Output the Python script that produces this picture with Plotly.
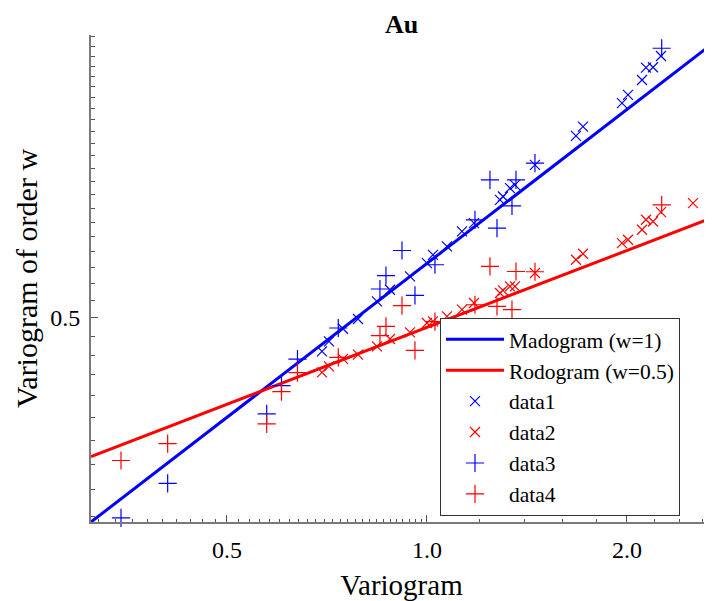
import numpy as np
import plotly.graph_objects as go

# ---- data ----
x_cross = [0.6950, 0.7121, 0.7475, 0.7874, 0.8409, 0.8797, 0.9429, 1.0000, 1.0211,
           1.0719, 1.1291, 1.1771, 1.2881, 1.3016, 1.3335, 1.3568, 1.4542, 1.6763,
           1.7175, 1.9660, 2.0074, 2.1073, 2.1367, 2.1892, 2.2507, 2.5146]
data1 = [0.4639, 0.4744, 0.4881, 0.4989, 0.5190, 0.5327, 0.5489, 0.5656, 0.5762,
         0.5871, 0.6072, 0.6187, 0.6519, 0.6567, 0.6692, 0.6742, 0.7051, 0.7525,
         0.7683, 0.8098, 0.8249, 0.8531, 0.8770, 0.8778, 0.9003, 0.9438]
data2 = [0.4426, 0.4486, 0.4561, 0.4605, 0.4691, 0.4770, 0.4841, 0.4944, 0.4962,
         0.5018, 0.5094, 0.5171, 0.5288, 0.5319, 0.5367, 0.5367, 0.5531, 0.5698,
         0.5775, 0.5916, 0.5960, 0.6095, 0.6233, 0.6209, 0.6342, 0.6471]

x_plus = [0.3463, 0.4071, 0.5738, 0.6040, 0.6384, 0.7354, 0.8497, 0.8676, 0.9171,
          0.9593, 1.0282, 1.1811, 1.2441, 1.2748, 1.3428, 1.3615, 1.4542, 2.2562]
data3 = [0.3193, 0.3449, 0.4032, 0.4296, 0.4559, 0.4889, 0.5336, 0.5498, 0.5818,
         0.5260, 0.5635, 0.6233, 0.6818, 0.6118, 0.6432, 0.6818, 0.7078, 0.9160]
data4 = [0.3631, 0.3772, 0.3942, 0.4239, 0.4423, 0.4577, 0.4805, 0.4907, 0.5140,
         0.4650, 0.4959, 0.5151, 0.5613, 0.5132, 0.5094, 0.5550, 0.5547, 0.6446]

line_x = [0.3121, 2.686]
madogram_y = [0.3163, 0.9249]
rodogram_y = [0.3664, 0.6261]

x_tickvals = [0.4, 0.5, 0.6, 0.7, 0.8, 0.9, 1.0, 2.0]
x_ticktext = ["", "0.5", "", "", "", "", "1.0", "2.0"]
y_tickvals = [0.4, 0.5, 0.6, 0.7, 0.8, 0.9]
y_ticktext = ["", "0.5", "", "", "", ""]

FONT = "Liberation Serif, Times New Roman, serif"
BLUE = "#0000ff"
RED = "#ff0000"

fig = go.Figure()
fig.add_trace(go.Scatter(x=line_x, y=madogram_y, mode="lines", name="Madogram (w=1)",
                         line=dict(color=BLUE, width=3)))
fig.add_trace(go.Scatter(x=line_x, y=rodogram_y, mode="lines", name="Rodogram (w=0.5)",
                         line=dict(color=RED, width=3)))
fig.add_trace(go.Scatter(x=x_cross, y=data1, mode="markers", name="data1", cliponaxis=False,
                         marker=dict(symbol="x-thin", size=10, line=dict(color=BLUE, width=1.2))))
fig.add_trace(go.Scatter(x=x_cross, y=data2, mode="markers", name="data2", cliponaxis=False,
                         marker=dict(symbol="x-thin", size=10, line=dict(color=RED, width=1.2))))
fig.add_trace(go.Scatter(x=x_plus, y=data3, mode="markers", name="data3", cliponaxis=False,
                         marker=dict(symbol="cross-thin", size=13, line=dict(color=BLUE, width=1.2))))
fig.add_trace(go.Scatter(x=x_plus, y=data4, mode="markers", name="data4", cliponaxis=False,
                         marker=dict(symbol="cross-thin", size=13, line=dict(color=RED, width=1.2))))

minor_x = [round(v, 2) for v in np.arange(0.32, 1.0, 0.02)] + [1.2, 1.4, 1.6, 1.8, 2.2, 2.4, 2.6]
minor_y = [round(v, 2) for v in np.arange(0.32, 0.95, 0.02)]

axis_common = dict(
    type="log", showgrid=False, zeroline=False, showline=True, linecolor="#7a7a7a",
    linewidth=2, ticks="inside", ticklen=7, tickwidth=1.2, tickcolor="#555555",
    tickmode="array", tickfont=dict(family=FONT, size=24, color="black"),
    automargin=False,
)
W, H = 704, 593
fig.update_layout(
    width=W, height=H,
    margin=dict(l=83, r=0, t=27, b=78.5),
    paper_bgcolor="white", plot_bgcolor="white",
    font=dict(family=FONT, color="black"),
    title=dict(text="<b>Au</b>", x=0.5, xref="paper", xanchor="center", y=1 - 16 / H,
               yanchor="middle", pad=dict(t=0, b=0), font=dict(family=FONT, size=26, color="black")),
    xaxis=dict(**axis_common, range=[np.log10(line_x[0]), np.log10(line_x[1])],
               tickvals=x_tickvals, ticktext=x_ticktext, ticklabelstandoff=5,
               minor=dict(tickmode="array", tickvals=minor_x, ticks="inside", ticklen=3.5,
                          tickwidth=1.2, tickcolor="#555555"),
               title=dict(text="Variogram", font=dict(family=FONT, size=29, color="black"),
                          standoff=16)),
    yaxis=dict(**axis_common, range=[np.log10(0.3163), np.log10(0.9437)],
               tickvals=y_tickvals, ticktext=y_ticktext, ticklabelstandoff=4,
               minor=dict(tickmode="array", tickvals=minor_y, ticks="inside", ticklen=3.5,
                          tickwidth=1.2, tickcolor="#555555"),
               title=dict(text="Variogram of order w",
                          font=dict(family=FONT, size=30, color="black"), standoff=4)),
    showlegend=True,
    legend=dict(x=(440 - 91) / 621, y=(522.5 - 318) / 487.5, xanchor="left", yanchor="top",
                bgcolor="white", bordercolor="#333333", borderwidth=1, itemwidth=58,
                font=dict(family=FONT, size=21.5, color="black"), tracegroupgap=0),
)

fig.write_html("out.html")
